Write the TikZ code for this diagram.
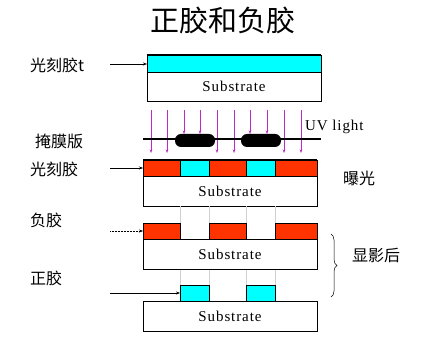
\documentclass[tikz,border=0pt]{standalone}
\usepackage{fontspec}
\setmainfont{Liberation Serif}
\newfontfamily\cjkfont{Noto Sans CJK SC}[Scale=1.0]
\usetikzlibrary{arrows.meta, positioning, decorations.pathreplacing}
\definecolor{ResistCyan}{RGB}{0,255,255}
\definecolor{ResistRed}{RGB}{255,51,0}
\definecolor{UVMagenta}{RGB}{190,40,200}

\begin{document}
\begin{tikzpicture}[x=1pt, y=-1pt,
    layer/.style={draw, line width=0.8pt, anchor=north west, inner sep=0pt, outer sep=0pt},
    sub/.style={layer, fill=white, minimum width=174pt, minimum height=30pt,
      font=\addfontfeature{LetterSpace=6}\fontsize{15}{15}\selectfont},
    cjk/.style={anchor=west, inner sep=0pt, font=\cjkfont\fontsize{16}{16}\selectfont},
    uv/.style={UVMagenta, line width=0.5pt, -{Stealth[length=3.5pt, width=2.5pt]}},
    lead/.style={line width=0.5pt, -{Stealth[length=4pt, width=3pt]}},
    guide/.style={black!18, line width=0.4pt}]
  \useasboundingbox (0,0) rectangle (429,344);
  % title
  \node[font=\cjkfont\fontsize{29}{29}\selectfont] (title) at (223,20) {正胶和负胶};

  % coated wafer
  \node[layer, fill=ResistCyan, minimum width=174pt, minimum height=17pt] (r0) at (147,55) {};
  \node[sub, minimum height=29pt] (s0) at (147,72) {Substrate};
  \draw[line width=1.4pt] (r0.north west) -- (r0.north east);
  \node[cjk] (l0) at (30,65) {光刻胶t};
  \coordinate (a0) at (110,64);
  \draw[lead] (a0) -- (r0.west |- a0);

  % exposure through the mask
  \foreach \x in {151,167,217,234,284,301}
    \draw[uv] (\x,110) -- (\x,153);
  \foreach \x in {184,200,250,267}
    \draw[uv] (\x,110) -- (\x,134);
  \coordinate (mk1) at (143,139);
  \coordinate (mk2) at (321,139);
  \draw[line width=1.5pt] (mk1) -- (mk2);
  \node[fill=black, rounded corners=6pt, minimum width=40pt, minimum height=13pt] (m1) at (195,140.5) {};
  \node[fill=black, rounded corners=6pt, minimum width=40pt, minimum height=13pt] (m2) at (261,140.5) {};
  \node[anchor=west, inner sep=0pt, font=\addfontfeature{LetterSpace=6}\fontsize{15}{15}\selectfont] (uvl) at (305,127) {UV light};
  \node[cjk] (l1) at (35,141) {掩膜版};

  \node[layer, fill=ResistRed, minimum width=37pt, minimum height=16pt] (e1) at (143,160) {};
  \node[layer, fill=ResistCyan, minimum width=29pt, minimum height=16pt] (e2) at (180,160) {};
  \node[layer, fill=ResistRed, minimum width=37pt, minimum height=16pt] (e3) at (209,160) {};
  \node[layer, fill=ResistCyan, minimum width=29pt, minimum height=16pt] (e4) at (246,160) {};
  \node[layer, fill=ResistRed, minimum width=42pt, minimum height=16pt] (e5) at (275,160) {};
  \node[sub] (s1) at (143,176) {Substrate};
  \draw[line width=1.4pt] (e1.north west) -- (e5.north east);
  \node[cjk] (l2) at (30,169) {光刻胶};
  \coordinate (a2) at (110,168);
  \draw[lead] (a2) -- (e1.west |- a2);
  \node[cjk] (l3) at (343,178) {曝光};

  % guides
  \foreach \x in {180,209,246,275} {
    \draw[guide] (\x,206) -- (\x,223);
    \draw[guide] (\x,269) -- (\x,285);
  }

  % negative resist after development
  \node[layer, fill=ResistRed, minimum width=37pt, minimum height=16pt] (n1) at (143,223) {};
  \node[layer, fill=ResistRed, minimum width=37pt, minimum height=16pt] (n2) at (209,223) {};
  \node[layer, fill=ResistRed, minimum width=42pt, minimum height=16pt] (n3) at (275,223) {};
  \node[sub] (s2) at (143,239) {Substrate};
  \node[cjk] (l4) at (30,220) {负胶};
  \coordinate (a4) at (110,231);
  \draw[lead, densely dotted] (a4) -- (n1.west |- a4);

  % positive resist after development
  \node[layer, fill=ResistCyan, minimum width=29pt, minimum height=16pt] (p1) at (180,285) {};
  \node[layer, fill=ResistCyan, minimum width=29pt, minimum height=16pt] (p2) at (246,285) {};
  \node[sub] (s3) at (143,301) {Substrate};
  \node[cjk] (l5) at (30,278) {正胶};
  \coordinate (a5) at (110,293);
  \draw[lead] (a5) -- (p1.west |- a5);

  \coordinate (b1) at (331,234);
  \coordinate (b2) at (331,297);
  \draw[line width=0.5pt, decorate, decoration={brace, amplitude=6pt}] (b1) -- (b2);
  \node[cjk] (l6) at (352,256) {显影后};
\end{tikzpicture}
\end{document}
